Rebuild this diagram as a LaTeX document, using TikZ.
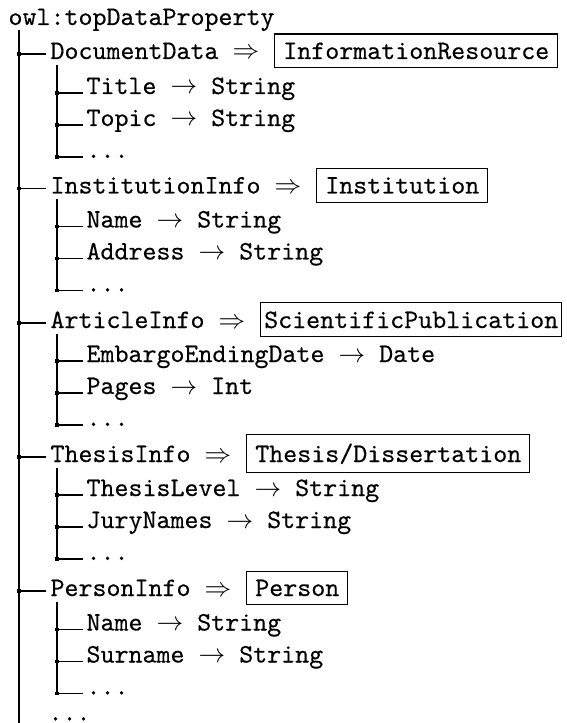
\documentclass[tikz,border=0pt]{standalone}
\usepackage{fontspec}
\setmonofont{lmmono10-regular.otf}[FakeBold=0.35]
\usetikzlibrary{calc}

% one branch of the top level: junction, label, class box, and the stub for its leaves
% #1 name, #2 y of the branch, #3 property, #4 class, #5 extra box options
\newcommand\groupentry[5]{%
  \coordinate (#1-j) at (19,#2);
  \node (#1) at (50,#2+5) {#3 $\Rightarrow$};
  \node[classbox,#5] (#1-class) at ($(#1.base east)+(14.5,0)$) {#4};
  \coordinate (#1-down) at (57,#2+11);
  \draw[branch] (#1-j) -- ($(#1-j -| #1.west)+(-4,0)$);
  \fill (#1-j) +(-1.7,-1.7) rectangle +(1.7,1.7);
}
% a leaf under a group: #1 name, #2 parent, #3 y of the branch, #4 text
\newcommand\leafentry[4]{%
  \coordinate (#1-j) at (57,#3);
  \node (#1) at (86,#3+1) {#4};
  \draw[branch] (#2-down) -- (#1-j) -- ($(#1-j -| #1.west)+(-3,0)$);
  \fill (#1-j) +(-1.7,-1.7) rectangle +(1.7,1.7);
}

\begin{document}
\begin{tikzpicture}[x=0.375pt,y=-0.375pt,
  every node/.style={font=\ttfamily, inner sep=0pt, anchor=base west},
  classbox/.style={draw, line width=0.4pt, inner sep=3.2pt},
  branch/.style={line width=0.4pt}]
\useasboundingbox (0,0) rectangle (566,723);

\node (root) at (8,25) {owl:topDataProperty};
\coordinate (trunk-top) at (19,30);
\coordinate (trunk-end) at (19,723);
\draw[branch] (trunk-top) -- (trunk-end);

\groupentry{doc}{54}{DocumentData}{InformationResource}{}
\leafentry{doc-a}{doc}{93}{Title $\rightarrow$ String}
\leafentry{doc-b}{doc}{125}{Topic $\rightarrow$ String}
\leafentry{doc-c}{doc}{157}{...}

\groupentry{inst}{188.5}{InstitutionInfo}{Institution}{}
\leafentry{inst-a}{inst}{226.5}{Name $\rightarrow$ String}
\leafentry{inst-b}{inst}{258.5}{Address $\rightarrow$ String}
\leafentry{inst-c}{inst}{290.5}{...}

\groupentry{art}{323}{ArticleInfo}{ScientificPublication}{inner xsep=1.3pt}
\leafentry{art-a}{art}{361}{EmbargoEndingDate $\rightarrow$ Date}
\leafentry{art-b}{art}{393}{Pages $\rightarrow$ Int}
\leafentry{art-c}{art}{425}{...}

\groupentry{thes}{457}{ThesisInfo}{Thesis/Dissertation}{}
\leafentry{thes-a}{thes}{495}{ThesisLevel $\rightarrow$ String}
\leafentry{thes-b}{thes}{527}{JuryNames $\rightarrow$ String}
\leafentry{thes-c}{thes}{559}{...}

\groupentry{pers}{591}{PersonInfo}{Person}{}
\leafentry{pers-a}{pers}{629.5}{Name $\rightarrow$ String}
\leafentry{pers-b}{pers}{661.5}{Surname $\rightarrow$ String}
\leafentry{pers-c}{pers}{693.5}{...}

\node (more) at (48,720.5) {...};
\end{tikzpicture}
\end{document}
